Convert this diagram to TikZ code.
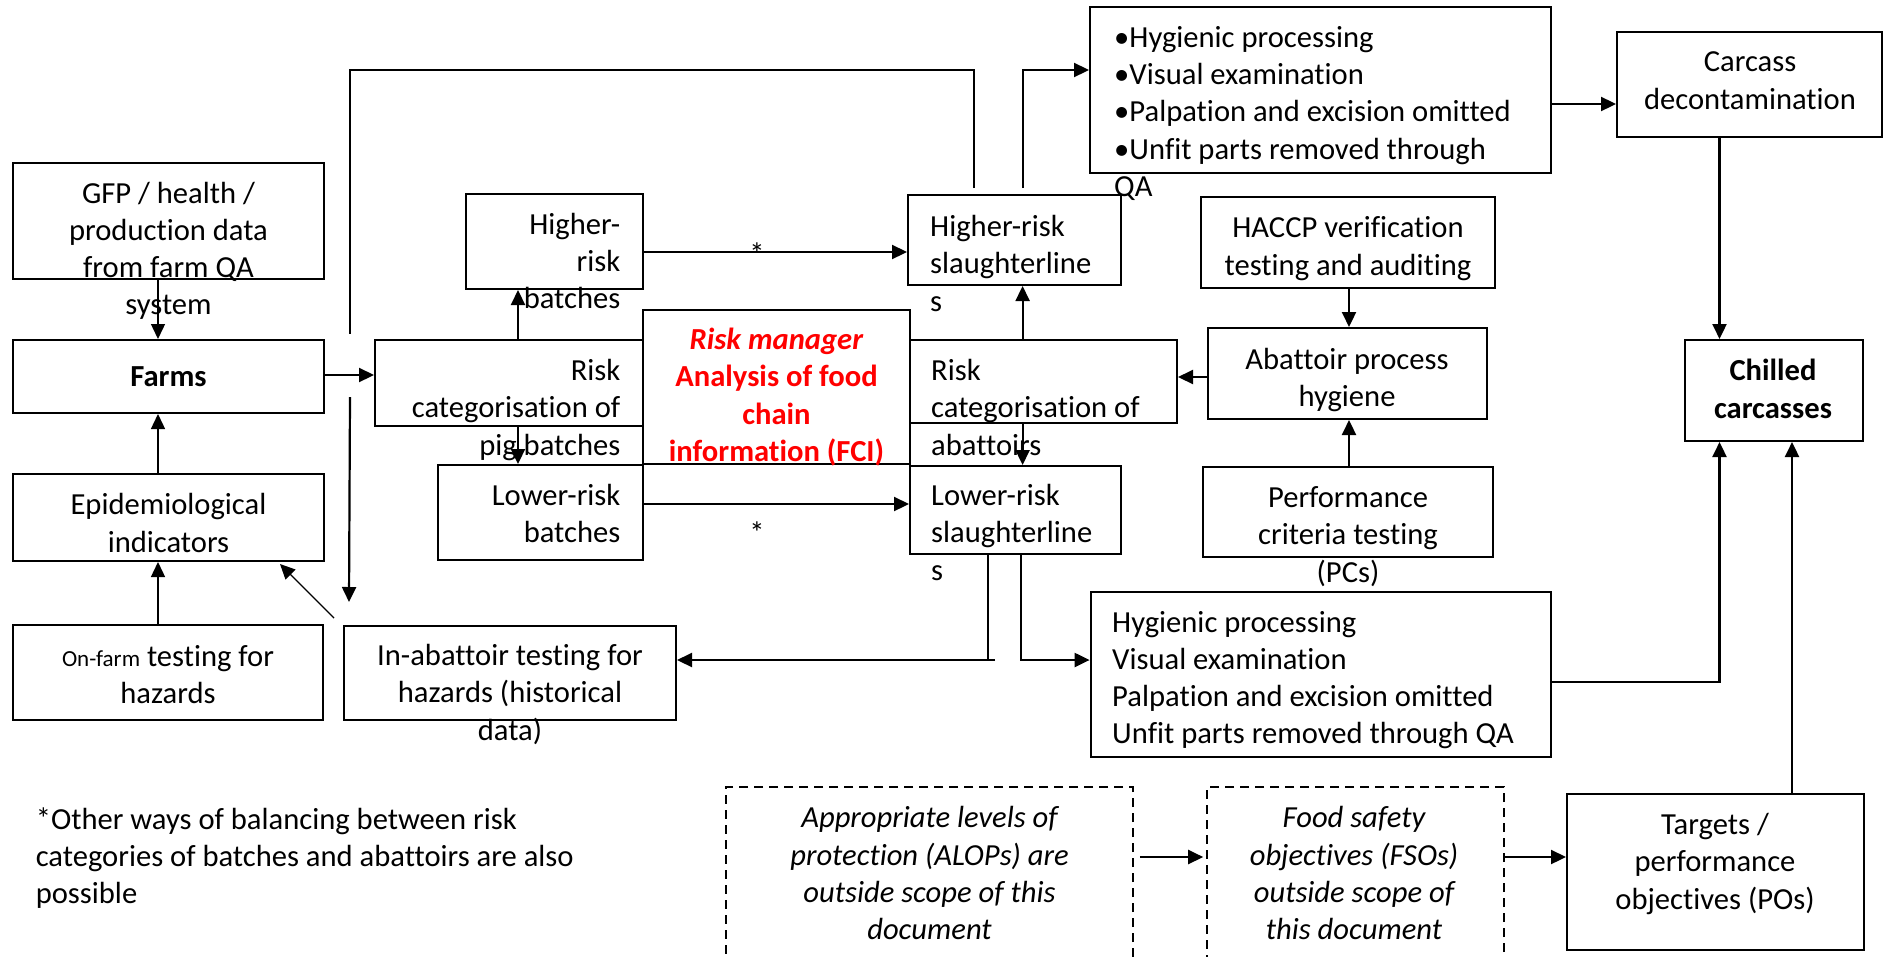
\documentclass[tikz,border=0pt]{standalone}
\usepackage{fontspec}
\setmainfont{Carlito}[Ligatures=CommonOff]
\usetikzlibrary{arrows.meta,calc}
\begin{document}
\begin{tikzpicture}[x=1pt,y=-1pt,
  box/.style={draw, line width=2pt, inner sep=0pt, rectangle},
  dbox/.style={draw, line width=1.6pt, dash pattern=on 9pt off 6pt, inner sep=0pt, rectangle},
  txt/.style={inner sep=0pt, yshift=-2.5pt, font=\fontsize{30.6}{37.3}\selectfont},
  ln/.style={line width=2.2pt},
  thinln/.style={line width=1.4pt},
  arr/.style={-{Triangle[length=15pt,width=14pt]}},
]
\useasboundingbox (0,0) rectangle (1886,956);
\fill[white] (0,0) rectangle (1886,956);

% boxes
\node[box, minimum width=311pt, minimum height=116pt] (gfp) at (168.5,221) {};
\node[box, minimum width=311pt, minimum height=73pt] (farms) at (168.5,376.5) {};
\node[box, minimum width=311pt, minimum height=87pt] (epi) at (168.5,517.5) {};
\node[box, minimum width=310pt, minimum height=95pt] (onfarm) at (168,672.5) {};
\node[box, minimum width=332pt, minimum height=94pt] (inab) at (510,673) {};
\node[box, minimum width=177pt, minimum height=95pt] (hrb) at (554.5,241.5) {};
\node[box, minimum width=268pt, minimum height=86pt] (rcp) at (509,383) {};
\node[box, minimum width=205.5pt, minimum height=95pt] (lrb) at (540.25,512.5) {};
\node[box, minimum width=267pt, minimum height=154pt] (rm) at (776.5,387) {};
\node[box, minimum width=213pt, minimum height=90pt] (hsl) at (1014.5,240) {};
\node[box, minimum width=267pt, minimum height=83pt] (rca) at (1043.5,381.5) {};
\node[box, minimum width=211pt, minimum height=88pt] (lsl) at (1015.5,510) {};
\node[box, minimum width=461pt, minimum height=166pt] (topbox) at (1320.5,90) {};
\node[box, minimum width=265pt, minimum height=105pt] (carcass) at (1749.5,84.5) {};
\node[box, minimum width=294pt, minimum height=91pt] (haccp) at (1348,242.5) {};
\node[box, minimum width=279pt, minimum height=91pt] (aph) at (1347.5,373.5) {};
\node[box, minimum width=290.5pt, minimum height=90pt] (pct) at (1347.75,512) {};
\node[box, minimum width=178pt, minimum height=101pt] (chilled) at (1774,390.5) {};
\node[box, minimum width=460.4pt, minimum height=165pt] (botbox) at (1320.8,674.5) {};
\node[box, minimum width=297pt, minimum height=156pt] (targets) at (1715.5,872) {};
\node[dbox, minimum width=407pt, minimum height=183pt] (alop) at (929.5,878.5) {};
\node[dbox, minimum width=297pt, minimum height=183pt] (fso) at (1355.5,878.5) {};

% texts
\node[txt, align=center] (gfp-t) at (168.5,249) {\strut GFP / health /\\\strut production data\\\strut from farm QA\\\strut system};
\node[txt, font=\fontsize{30.6}{37.3}\selectfont\bfseries] (farms-t) at (168.5,377) {\strut Farms};
\node[txt, align=center] (epi-t) at (168.5,523.5) {\strut Epidemiological\\\strut indicators};
\node[txt, align=center] (onfarm-t) at (168,675) {\strut{\fontsize{23}{28}\selectfont On-farm} testing for\\\strut hazards};
\node[txt, align=center] (inab-t) at (510,693) {\strut In-abattoir testing for\\\strut hazards (historical\\\strut data)};
\node[txt, align=right, anchor=east] (hrb-t) at (620.5,261.5) {\strut Higher-\\\strut risk\\\strut batches};
\node[txt, align=right, anchor=east] (rcp-t) at (620.5,408) {\strut Risk\\\strut categorisation of\\\strut pig batches};
\node[txt, align=right, anchor=east] (lrb-t) at (620.5,514) {\strut Lower-risk\\\strut batches};
\node[txt, align=center, text=red, font=\fontsize{30.6}{37.3}\selectfont\bfseries] (rm-t) at (776.5,395.5) {\strut\textit{Risk manager}\\\strut Analysis of food\\\strut chain\\\strut information (FCI)};
\node[txt, align=left, anchor=west] (hsl-t) at (930,264) {\strut Higher-risk\\\strut slaughterline\\\strut s};
\node[txt, align=left, anchor=west] (rca-t) at (931,408) {\strut Risk\\\strut categorisation of\\\strut abattoirs};
\node[txt, align=left, anchor=west] (lsl-t) at (931,533) {\strut Lower-risk\\\strut slaughterline\\\strut s};
\node[txt, align=left, anchor=west] (top-t) at (1114,112) {\strut •Hygienic processing\\\strut •Visual examination\\\strut •Palpation and excision omitted\\\strut •Unfit parts removed through\\\strut QA};
\node[txt, align=center] (carcass-t) at (1750,80.5) {\strut Carcass\\\strut decontamination};
\node[txt, align=center] (haccp-t) at (1348,246.5) {\strut HACCP verification\\\strut testing and auditing};
\node[txt, align=center] (aph-t) at (1347,378) {\strut Abattoir process\\\strut hygiene};
\node[txt, align=center, font=\fontsize{30.6}{37.3}\selectfont\bfseries] (chilled-t) at (1773,389.5) {\strut Chilled\\\strut carcasses};
\node[txt, align=center] (pct-t) at (1348,535) {\strut Performance\\\strut criteria testing\\\strut (PCs)};
\node[txt, align=left, anchor=west] (bot-t) at (1112,678) {\strut Hygienic processing\\\strut Visual examination\\\strut Palpation and excision omitted\\\strut Unfit parts removed through QA};
\node[txt, align=center, font=\fontsize{30.6}{37.3}\selectfont\itshape] (alop-t) at (929.5,873.75) {\strut Appropriate levels of\\\strut protection (ALOPs) are\\\strut outside scope of this\\\strut document};
\node[txt, align=center, font=\fontsize{30.6}{37.3}\selectfont\itshape] (fso-t) at (1354,873.75) {\strut Food safety\\\strut objectives (FSOs)\\\strut outside scope of\\\strut this document};
\node[txt, align=center] (targets-t) at (1715,862) {\strut Targets /\\\strut performance\\\strut objectives (POs)};
\node[txt, align=left, anchor=west] (note) at (35.6,856.7) {\strut *Other ways of balancing between risk\\\strut categories of batches and abattoirs are also\\\strut possible};
\node[txt] (s1) at (757,251) {*};
\node[txt] (s2) at (757,530) {*};

% helper coordinates
\coordinate (xA) at (158,0);
\coordinate (yFarm) at (0,375);
\coordinate (xP) at (518,0);
\coordinate (yH) at (0,252);
\coordinate (yL) at (0,504);
\coordinate (xQ) at (1022.6,0);
\coordinate (yAph) at (0,377);
\coordinate (xHc) at (1349,0);
\coordinate (yTop) at (0,70);
\coordinate (yCar) at (0,104);
\coordinate (xCh1) at (1719.5,0);
\coordinate (xCh2) at (1792,0);
\coordinate (yBot) at (0,682);
\coordinate (x988) at (988,0);
\coordinate (yLow) at (0,660);
\coordinate (yAl) at (0,857);
\coordinate (fbTop) at (350,70);
\coordinate (fbA) at (350,334);
\coordinate (fbB) at (350,397);

% connectors
\draw[thinln,arr] (xA |- gfp.south) -- (xA |- farms.north);
\draw[ln,arr] (farms.east |- yFarm) -- (rcp.west |- yFarm);
\draw[thinln,arr] (xA |- epi.north) -- (xA |- farms.south);
\draw[thinln,arr] (xA |- onfarm.north) -- (xA |- epi.south);
\draw[thinln,arr] ($(inab.north west)+(-9,-7)$) -- ($(epi.south east)+(-45,2)$);
\draw[line width=2.8pt] ($(hsl.north west)+(67,-6)$) |- (fbTop) -- (fbA);
\draw[ln,arr] (fbB) -- ($(inab.north west)+(6,-23)$);
\draw[ln,arr] (xP |- rcp.north) -- (xP |- hrb.south);
\draw[ln,arr] (xP |- rcp.south) -- (xP |- lrb.north);
\draw[ln,arr] (hrb.east |- yH) -- (hsl.west |- yH);
\draw[ln,arr] (lrb.east |- yL) -- (lsl.west |- yL);
\draw[ln,arr] (xQ |- rca.north) -- (xQ |- hsl.south);
\draw[ln,arr] (xQ |- rca.south) -- (xQ |- lsl.north);
\draw[ln,arr] ($(xQ |- hsl.north)+(0,-6)$) |- (topbox.west |- yTop);
\draw[ln,arr] (aph.west |- yAph) -- (rca.east |- yAph);
\draw[ln,arr] (xHc |- haccp.south) -- (xHc |- aph.north);
\draw[ln,arr] (xHc |- pct.north) -- (xHc |- aph.south);
\draw[ln] (x988 |- lsl.south) -- (x988 |- yLow);
\draw[ln,arr] ($(x988 |- yLow)+(7,0)$) -- (inab.east |- yLow);
\draw[ln,arr] ($(xQ |- lsl.south)+(-1.6,0)$) |- (botbox.west |- yLow);
\draw[ln,arr] (topbox.east |- yCar) -- (carcass.west |- yCar);
\draw[ln,arr] (xCh1 |- carcass.south) -- (xCh1 |- chilled.north);
\draw[ln,arr] (botbox.east |- yBot) -| (xCh1 |- chilled.south);
\draw[ln,arr] (xCh2 |- targets.north) -- (xCh2 |- chilled.south);
\draw[ln,arr] ($(alop.east |- yAl)+(6,0)$) -- ($(fso.west |- yAl)+(-3,0)$);
\draw[ln,arr] (fso.east |- yAl) -- (targets.west |- yAl);
\end{tikzpicture}
\end{document}
